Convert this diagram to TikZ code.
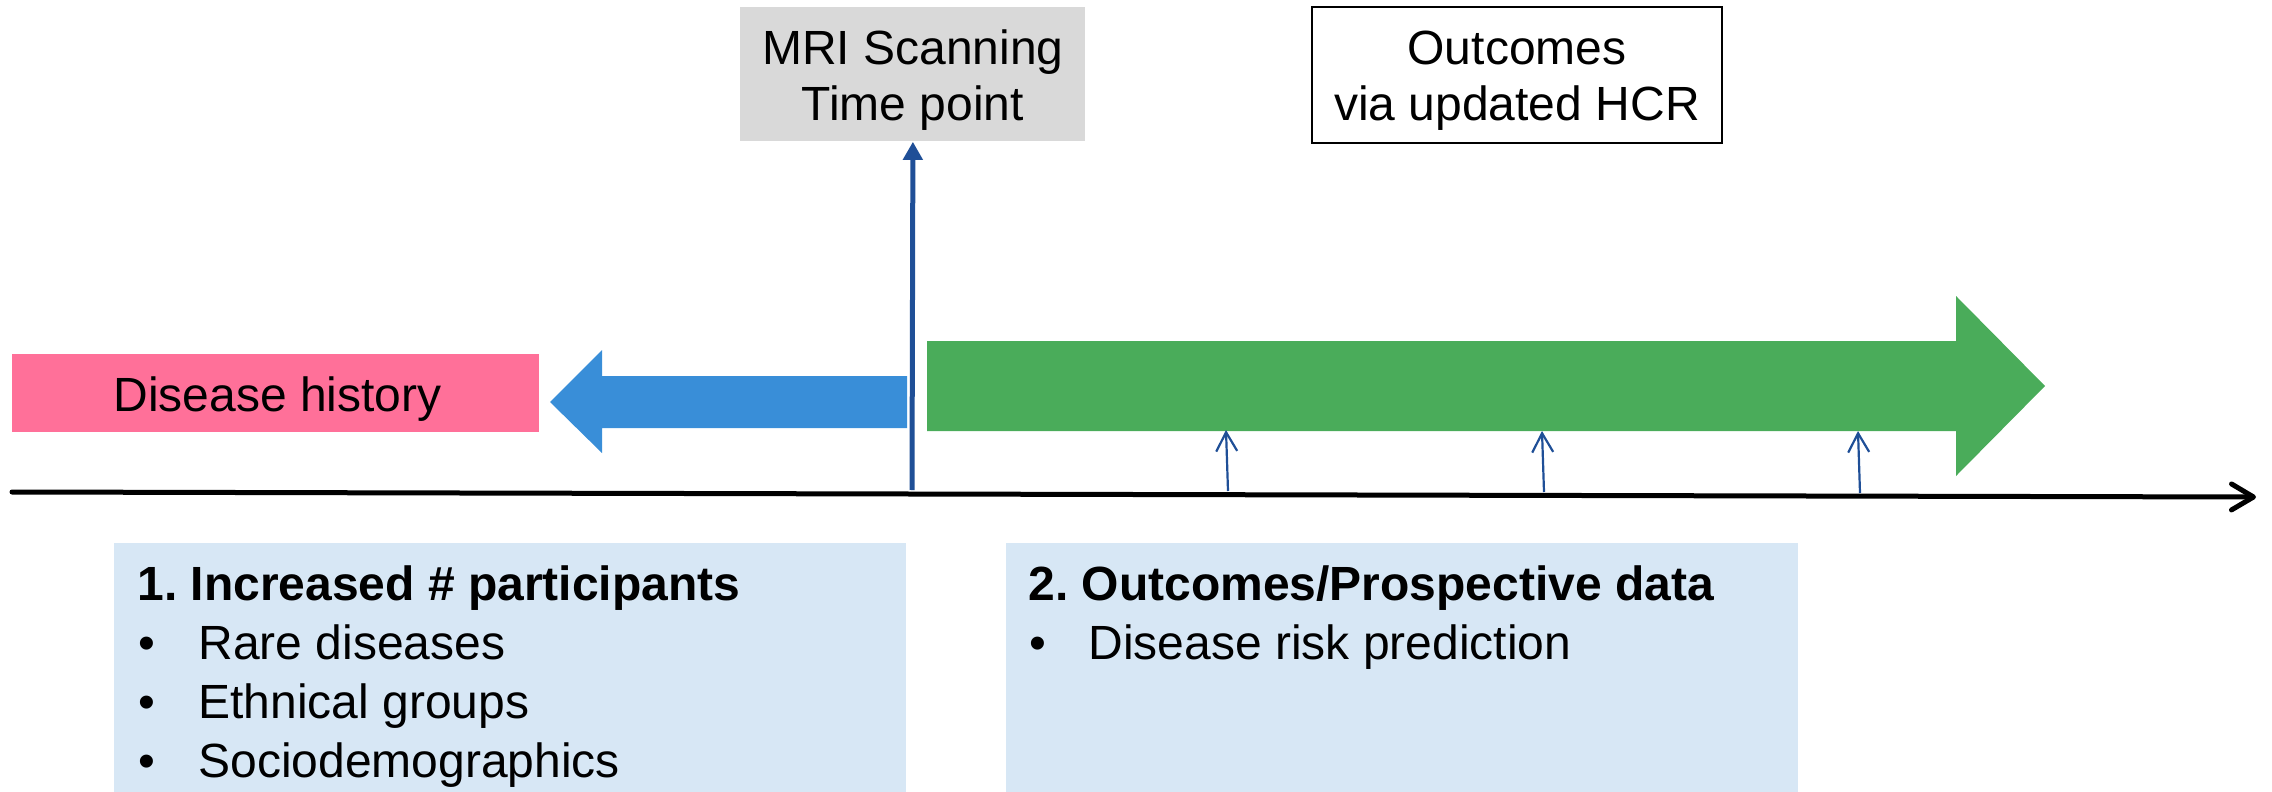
\documentclass[tikz,border=0pt]{standalone}
\usepackage{fontspec}
\setmainfont{Liberation Sans}
\usetikzlibrary{arrows.meta}
\frenchspacing

\definecolor{histpink}{RGB}{255,112,153}
\definecolor{pastblue}{RGB}{57,142,216}
\definecolor{futgreen}{RGB}{74,172,90}
\definecolor{markblue}{RGB}{31,79,151}
\definecolor{panelblue}{RGB}{215,231,245}
\definecolor{scangray}{RGB}{217,217,217}

\begin{document}
\begin{tikzpicture}[x=0.5pt,y=-0.5pt,
  txt/.style={font=\fontsize{24pt}{28pt}\selectfont, text=black},
  boxnode/.style={inner sep=0pt, anchor=north west},
  boxtext/.style={txt, inner sep=0pt, align=center, yshift=-3pt},
  panel/.style={fill=panelblue, inner sep=0pt, anchor=north west,
    minimum width=396pt, minimum height=124.5pt},
  linetext/.style={txt, inner sep=0pt, anchor=base west},
  headtext/.style={linetext, font=\fontsize{24pt}{28pt}\selectfont\bfseries},
  axisline/.style={line width=2.5pt, line cap=round,
    -{Straight Barb[length=11pt,width=13pt,line cap=round,line join=round]}},
  scanmark/.style={draw=markblue, line width=2.5pt,
    -{Triangle[length=9pt,width=9.5pt]}},
  visitmark/.style={draw=markblue, line width=1.1pt,
    -{Straight Barb[length=9.5pt,width=10.5pt]}}]

\useasboundingbox (0,0) rectangle (2272,792);

% header boxes
\node[boxnode, fill=scangray, minimum width=172.5pt, minimum height=67pt]
  (mri) at (740,7) {};
\node[boxtext] (mritext) at (mri.center) {MRI Scanning\\Time point};
\node[boxnode, draw=black, line width=1pt, minimum width=205pt, minimum height=68pt]
  (outc) at (1311,6) {};
\node[boxtext] (outctext) at (outc.center) {Outcomes\\via updated HCR};

% past: disease history and backward arrow
\node[boxnode, fill=histpink, minimum width=263.5pt, minimum height=39pt]
  (hist) at (12,354) {};
\node[linetext] (histtext) at (113,411) {Disease history};
\fill[pastblue] (907,376) -- (602,376) -- (602,350) -- (550,402)
  -- (602,453) -- (602,428) -- (907,428) -- cycle;

% future: forward arrow
\fill[futgreen] (927,341) -- (1956,341) -- (1956,296) -- (2045,386)
  -- (1956,476) -- (1956,431) -- (927,431) -- cycle;
\coordinate (f1) at (1226,430);
\coordinate (f2) at (1542,431);
\coordinate (f3) at (1858,431);

% time axis
\coordinate (ax0) at (12,492);
\coordinate (ax1) at (2256,497);
\draw[axisline] (ax0) -- (ax1);
\coordinate (t0) at (912,490);
\coordinate (t1) at (1228,491);
\coordinate (t2) at (1544,492);
\coordinate (t3) at (1860,493);

\draw[scanmark] (t0) -- (mri.south);
\draw[visitmark] (t1) -- (f1);
\draw[visitmark] (t2) -- (f2);
\draw[visitmark] (t3) -- (f3);

% lower panels
\node[panel] (p1) at (114,543) {};
\node[panel] (p2) at (1006,543) {};

\node[headtext] (h1) at (137,600) {1. Increased \# participants};
\node[linetext] (b1a) at (138,659) {•};
\node[linetext] (i1a) at (198,659) {Rare diseases};
\node[linetext] (b1b) at (138,718) {•};
\node[linetext] (i1b) at (198,718) {Ethnical groups};
\node[linetext] (b1c) at (138,777) {•};
\node[linetext] (i1c) at (198,777) {Sociodemographics};

\node[headtext] (h2) at (1028,600) {2. Outcomes/Prospective data};
\node[linetext] (b2a) at (1029,659) {•};
\node[linetext] (i2a) at (1088,659) {Disease risk prediction};
\end{tikzpicture}
\end{document}
